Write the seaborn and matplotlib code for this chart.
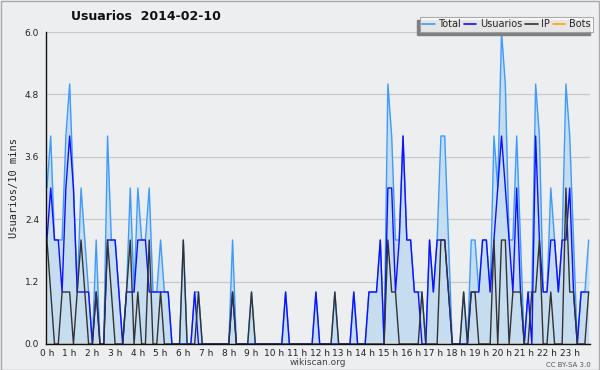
import numpy as np
import matplotlib
matplotlib.use("Agg")
import matplotlib.pyplot as plt
from matplotlib.lines import Line2D
from matplotlib.ticker import MultipleLocator, FixedLocator
import seaborn as sns

# values per 10-minute slot (144 slots, 6 per hour)
total = [3, 4, 2, 2, 2, 4,   5, 3, 1, 3, 2, 1,   0, 2, 0, 0, 4, 2,   2, 1, 0, 1, 3, 1,
         3, 2, 2, 3, 1, 1,   2, 1, 1, 0, 0, 0,   2, 0, 0, 1, 1, 0,   0, 0, 0, 0, 0, 0,
         0, 2, 0, 0, 0, 0,   1, 0, 0, 0, 0, 0,   0, 0, 0, 1, 0, 0,   0, 0, 0, 0, 0, 1,
         0, 0, 0, 0, 1, 0,   0, 0, 0, 1, 0, 0,   0, 1, 1, 1, 2, 0,   5, 4, 2, 2, 4, 2,
         2, 1, 1, 1, 0, 2,   1, 2, 4, 4, 2, 0,   0, 0, 1, 0, 2, 2,   1, 2, 2, 1, 4, 3,
         6, 5, 2, 2, 4, 2,   0, 1, 1, 5, 4, 1,   1, 3, 2, 1, 2, 5,   4, 2, 0, 1, 1, 2]
usuarios = [2, 3, 2, 2, 1, 3,   4, 3, 1, 1, 1, 1,   0, 1, 0, 0, 2, 2,   2, 1, 0, 1, 1, 1,
            2, 2, 2, 1, 1, 1,   1, 1, 1, 0, 0, 0,   0, 0, 0, 1, 0, 0,   0, 0, 0, 0, 0, 0,
            0, 1, 0, 0, 0, 0,   0, 0, 0, 0, 0, 0,   0, 0, 0, 1, 0, 0,   0, 0, 0, 0, 0, 1,
            0, 0, 0, 0, 0, 0,   0, 0, 0, 1, 0, 0,   0, 1, 1, 1, 2, 0,   3, 3, 1, 2, 4, 2,
            2, 1, 1, 0, 0, 2,   1, 2, 2, 2, 1, 0,   0, 0, 0, 0, 1, 1,   1, 2, 2, 1, 2, 3,
            4, 3, 2, 1, 3, 1,   0, 1, 0, 4, 2, 1,   1, 2, 2, 1, 2, 2,   3, 1, 0, 1, 1, 1]
ip = [2, 1, 0, 0, 1, 1,   1, 0, 1, 2, 1, 0,   0, 1, 0, 0, 2, 1,   0, 0, 0, 1, 2, 0,
      1, 0, 0, 2, 0, 0,   1, 0, 0, 0, 0, 0,   2, 0, 0, 0, 1, 0,   0, 0, 0, 0, 0, 0,
      0, 1, 0, 0, 0, 0,   1, 0, 0, 0, 0, 0,   0, 0, 0, 0, 0, 0,   0, 0, 0, 0, 0, 0,
      0, 0, 0, 0, 1, 0,   0, 0, 0, 0, 0, 0,   0, 0, 0, 0, 0, 0,   2, 1, 1, 0, 0, 0,
      0, 0, 0, 1, 0, 0,   0, 0, 2, 2, 1, 0,   0, 0, 1, 0, 1, 1,   0, 0, 0, 0, 2, 0,
      2, 2, 0, 1, 1, 1,   0, 0, 1, 1, 2, 0,   0, 1, 0, 0, 0, 3,   1, 1, 0, 0, 0, 1]
bots = [0] * 144
hour_labels = [f"{h} h" for h in range(24)]
slots = np.arange(144) / 6  # hours

sns.set_style("white", {"axes.facecolor": "#EDEEF0", "figure.facecolor": "#EDEEF0"})
plt.rcParams["font.family"] = ["DejaVu Sans"]

fig = plt.figure(figsize=(6, 3.7), dpi=100)
ax = fig.add_axes([0.0767, 0.0703, 0.9063, 0.8432])

ax.fill_between(slots, total, 0, color="#C6DCEF", zorder=1, linewidth=0)
sns.lineplot(x=slots, y=bots, ax=ax, color="#FFA500", linewidth=1, zorder=2)
sns.lineplot(x=slots, y=total, ax=ax, color="#3D9BFF", linewidth=1, zorder=3)
sns.lineplot(x=slots, y=usuarios, ax=ax, color="#1010FF", linewidth=1, zorder=4)
sns.lineplot(x=slots, y=ip, ax=ax, color="#333333", linewidth=1, zorder=5)

ax.set_xlim(-0.04, 143 / 6 + 0.05)
ax.set_ylim(0, 6)

# axes, ticks, grid
ax.yaxis.set_major_locator(MultipleLocator(1.2))
ax.yaxis.set_minor_locator(MultipleLocator(0.24))
ax.yaxis.set_major_formatter(matplotlib.ticker.FormatStrFormatter("%.1f"))
ax.xaxis.set_major_locator(FixedLocator(range(24)))
ax.xaxis.set_minor_locator(MultipleLocator(1 / 6))
ax.set_xticklabels(hour_labels)
ax.tick_params(axis="y", which="major", labelsize=6.5, colors="#222222", length=4, width=0.8, pad=1)
ax.tick_params(axis="x", which="major", labelsize=6.5, colors="#222222", length=3, width=0.8, pad=0.5)
ax.tick_params(axis="both", which="minor", length=2.5, width=0.8, color="#222222")
ax.grid(axis="y", color="#C8C8C8", linewidth=0.9, zorder=0)
ax.set_axisbelow(True)
for s in ["top", "right"]:
    ax.spines[s].set_visible(False)
for s in ["left", "bottom"]:
    ax.spines[s].set_color("#111111")
    ax.spines[s].set_linewidth(1)
    ax.spines[s].set_zorder(6)

ax.set_ylabel("Usuarios/10 mins", fontsize=7.5, family="DejaVu Sans Mono", labelpad=4)
ax.set_xlabel("wikiscan.org", fontsize=6.5, color="#444444", labelpad=0)
fig.text(0.243, 0.955, "Usuarios  2014-02-10", ha="center", va="center",
         fontsize=9, fontweight="bold", color="#111111")
fig.text(0.985, 0.006, "CC BY-SA 3.0", ha="right", va="bottom", fontsize=5, color="#555555")

handles = [Line2D([], [], color=c, linewidth=1.2) for c in ["#3D9BFF", "#1010FF", "#333333", "#FFA500"]]
leg = fig.legend(handles, ["Total", "Usuarios", "IP", "Bots"], loc="upper right",
                 bbox_to_anchor=(0.988, 0.955), ncol=4, fontsize=7, frameon=True,
                 fancybox=False, shadow=False, handlelength=1.3, handletextpad=0.35,
                 columnspacing=0.3, borderpad=0.25, borderaxespad=0)
leg.get_frame().set_edgecolor("#999999")
leg.get_frame().set_facecolor("white")
leg.get_frame().set_linewidth(0.8)
leg.set_zorder(10)

# legend shadow, offset left and down
fig.canvas.draw()
bb = leg.get_window_extent().transformed(fig.transFigure.inverted())
fig.patches.append(plt.Rectangle((bb.x0 - 3 / 600, bb.y0 - 3 / 370), bb.width, bb.height,
                                 transform=fig.transFigure, color="#808080", zorder=9))

# outer border
fig.patches.append(plt.Rectangle((0.001, 0.001), 0.998, 0.997, transform=fig.transFigure,
                                 fill=False, edgecolor="#AAAAAA", linewidth=1))

fig.savefig("out.png", dpi=100)
